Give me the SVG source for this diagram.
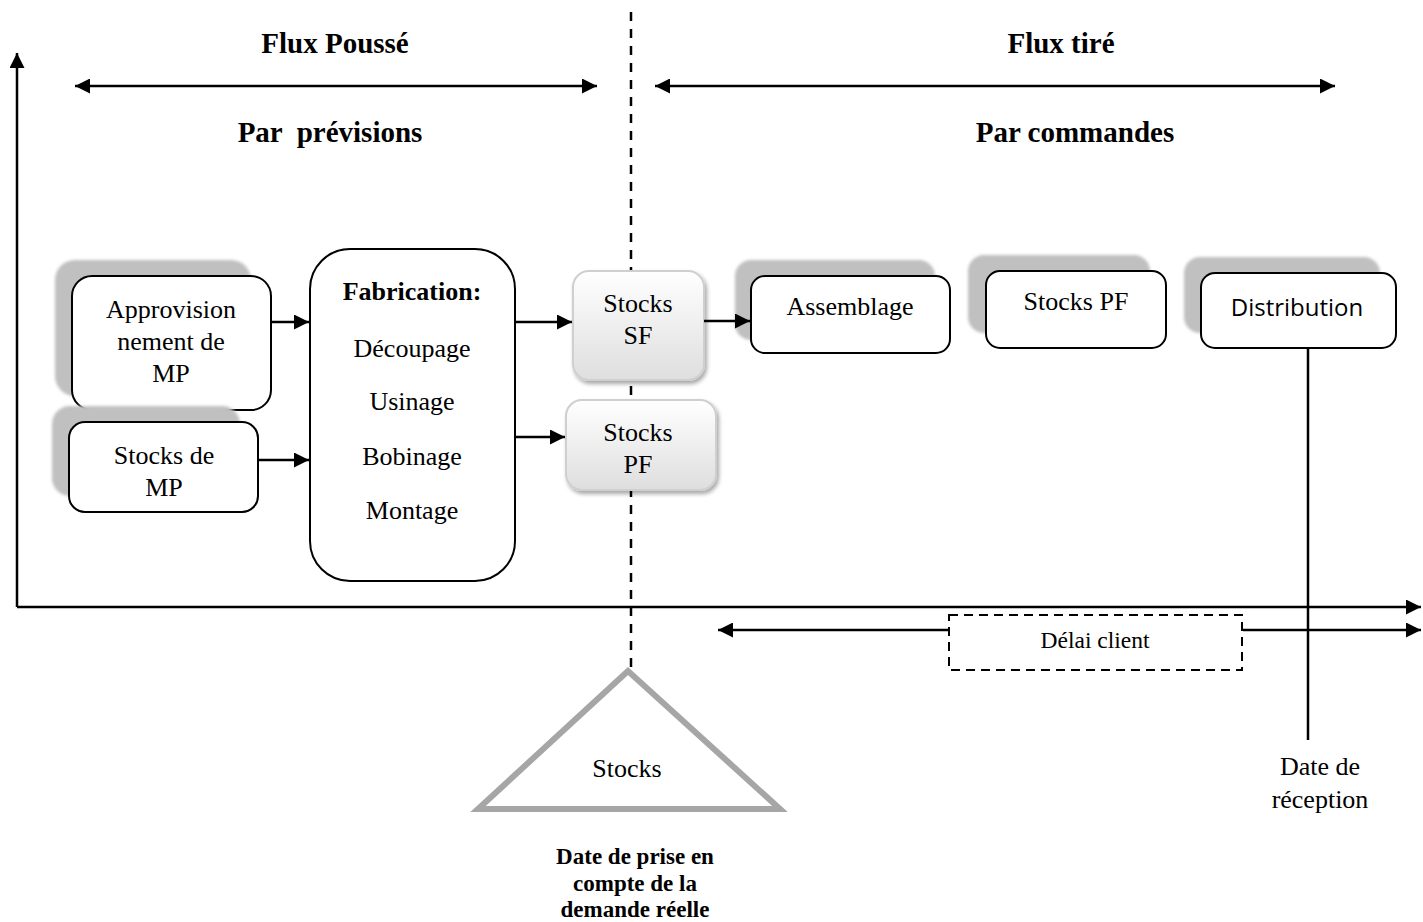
<svg xmlns="http://www.w3.org/2000/svg" width="1423" height="922" viewBox="0 0 1423 922">
  <style>
    .t { font-family: "Liberation Serif", "Times New Roman", serif; fill: #000; text-anchor: middle; }
    .h { font-size: 29px; font-weight: bold; }
    .n { font-size: 26px; }
    .s { font-family: "Open Sans", "Liberation Sans", sans-serif; font-size: 24px; fill: #000; text-anchor: middle; }
    .box { fill: #fff; stroke: #000; stroke-width: 2; }
    .shadow { fill: #c0c0c0; filter: url(#soft); }
    .stock { fill: url(#grad); stroke: #cfcfcf; stroke-width: 2; filter: url(#drop); }
    .line { stroke: #000; stroke-width: 2.5; fill: none; }
  </style>
  <defs>
    <linearGradient id="grad" x1="0" y1="0" x2="0" y2="1">
      <stop offset="0" stop-color="#ffffff"/>
      <stop offset="1" stop-color="#dedede"/>
    </linearGradient>
    <filter id="soft" x="-10%" y="-10%" width="120%" height="120%">
      <feGaussianBlur stdDeviation="1.5"/>
    </filter>
    <filter id="drop" x="-10%" y="-10%" width="130%" height="130%">
      <feGaussianBlur in="SourceAlpha" stdDeviation="2"/>
      <feOffset dx="2" dy="3"/>
      <feComponentTransfer><feFuncA type="linear" slope="0.35"/></feComponentTransfer>
      <feMerge><feMergeNode/><feMergeNode in="SourceGraphic"/></feMerge>
    </filter>
    <marker id="arr" viewBox="0 0 10 10" refX="10" refY="5" markerWidth="6" markerHeight="6" orient="auto-start-reverse" markerUnits="strokeWidth">
      <path d="M0,0 L10,5 L0,10 z" fill="#000"/>
    </marker>
  </defs>

  <!-- demand decoupling point: dashed separator behind the boxes -->
  <line id="separator" x1="631" y1="12" x2="631" y2="668" stroke="#000" stroke-width="2.5" stroke-dasharray="9,8"/>

  <!-- headings -->
  <g id="headings">
    <text class="t h" x="335" y="53">Flux Poussé</text>
    <text class="t h" x="330" y="142" xml:space="preserve">Par  prévisions</text>
    <text class="t h" x="1061" y="53">Flux tiré</text>
    <text class="t h" x="1075" y="142">Par commandes</text>
  </g>

  <g id="approvisionnement">
    <rect class="shadow" x="55" y="260" width="196" height="136" rx="20"/>
    <rect class="box" x="72" y="276" width="199" height="134" rx="20"/>
    <text class="t n" x="171" y="318">Approvision</text>
    <text class="t n" x="171" y="350">nement de</text>
    <text class="t n" x="171" y="382">MP</text>
  </g>

  <g id="stocks-mp">
    <rect class="shadow" x="52" y="406" width="188" height="90" rx="18"/>
    <rect class="box" x="69" y="422" width="189" height="90" rx="16"/>
    <text class="t n" x="164" y="464">Stocks de</text>
    <text class="t n" x="164" y="496">MP</text>
  </g>

  <g id="fabrication">
    <rect class="box" x="310" y="249" width="205" height="332" rx="40"/>
    <text class="t n" x="412" y="300" font-weight="bold">Fabrication:</text>
    <text class="t n" x="412" y="357">Découpage</text>
    <text class="t n" x="412" y="410">Usinage</text>
    <text class="t n" x="412" y="465">Bobinage</text>
    <text class="t n" x="412" y="519">Montage</text>
  </g>

  <g id="stocks-sf">
    <rect class="stock" x="573" y="271" width="131" height="109" rx="16"/>
    <text class="t n" x="638" y="312">Stocks</text>
    <text class="t n" x="638" y="344">SF</text>
  </g>

  <g id="stocks-pf-gauche">
    <rect class="stock" x="566" y="400" width="150" height="90" rx="16"/>
    <text class="t n" x="638" y="441">Stocks</text>
    <text class="t n" x="638" y="473">PF</text>
  </g>

  <g id="assemblage">
    <rect class="shadow" x="735" y="260" width="200" height="80" rx="16"/>
    <rect class="box" x="751" y="276" width="199" height="77" rx="14"/>
    <text class="t n" x="850" y="315">Assemblage</text>
  </g>

  <g id="stocks-pf-droite">
    <rect class="shadow" x="968" y="255" width="182" height="78" rx="16"/>
    <rect class="box" x="986" y="271" width="180" height="77" rx="14"/>
    <text class="t n" x="1076" y="310">Stocks PF</text>
  </g>

  <g id="distribution">
    <rect class="shadow" x="1184" y="257" width="196" height="76" rx="16"/>
    <rect class="box" x="1201" y="273" width="195" height="75" rx="14"/>
    <text class="s" x="1297" y="316">Distribution</text>
  </g>

  <g id="delai-client">
    <rect x="949" y="615" width="293" height="55" fill="#fff" stroke="#000" stroke-width="2" stroke-dasharray="9,6"/>
    <text class="t" x="1095" y="648" font-size="23.5">Délai client</text>
  </g>

  <g id="reception">
    <text class="t n" x="1320" y="775">Date de</text>
    <text class="t n" x="1320" y="808">réception</text>
  </g>

  <g id="stocks-triangle">
    <polygon points="628,671 478,809 780,809" fill="#fff" stroke="#a6a6a6" stroke-width="6"/>
    <text class="t n" x="627" y="777">Stocks</text>
  </g>

  <g id="prise-en-compte">
    <text class="t" x="635" y="864" font-size="23" font-weight="bold">Date de prise en</text>
    <text class="t" x="635" y="891" font-size="23" font-weight="bold">compte de la</text>
    <text class="t" x="635" y="917" font-size="23" font-weight="bold">demande réelle</text>
  </g>

  <!-- axes, spans and flow arrows -->
  <g id="connectors">
    <line class="line" x1="17" y1="607" x2="17" y2="53" marker-end="url(#arr)"/>
    <line class="line" x1="17" y1="607" x2="1421" y2="607" marker-end="url(#arr)"/>
    <line class="line" x1="75" y1="86" x2="597" y2="86" marker-start="url(#arr)" marker-end="url(#arr)"/>
    <line class="line" x1="655" y1="86" x2="1335" y2="86" marker-start="url(#arr)" marker-end="url(#arr)"/>
    <line class="line" x1="271" y1="322" x2="309" y2="322" marker-end="url(#arr)"/>
    <line class="line" x1="258" y1="460" x2="309" y2="460" marker-end="url(#arr)"/>
    <line class="line" x1="515" y1="322" x2="572" y2="322" marker-end="url(#arr)"/>
    <line class="line" x1="515" y1="437" x2="565" y2="437" marker-end="url(#arr)"/>
    <line class="line" x1="704" y1="321" x2="750" y2="321" marker-end="url(#arr)"/>
    <line class="line" x1="1308" y1="349" x2="1308" y2="740"/>
    <line class="line" x1="948" y1="630" x2="718" y2="630" marker-end="url(#arr)"/>
    <line class="line" x1="1243" y1="630" x2="1421" y2="630" marker-end="url(#arr)"/>
  </g>
</svg>
